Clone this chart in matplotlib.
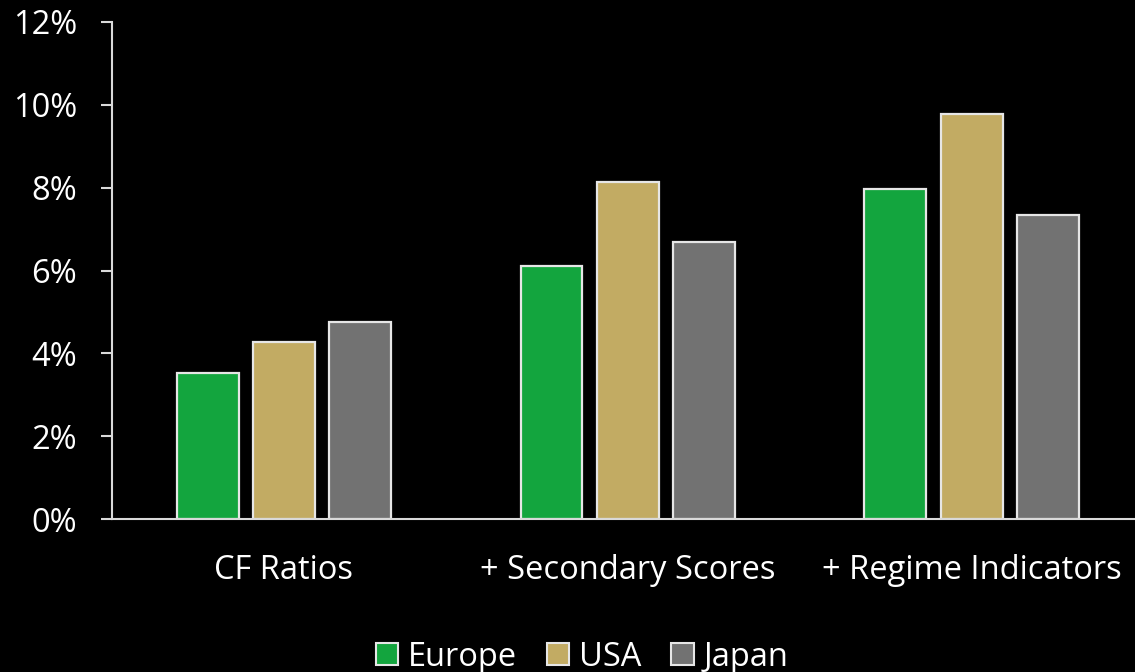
import matplotlib
matplotlib.use("Agg")
import matplotlib.pyplot as plt
import numpy as np
from matplotlib.patches import Patch

categories = ["CF Ratios", "+ Secondary Scores", "+ Regime Indicators"]
series_names = ["Europe", "USA", "Japan"]
europe = [3.53, 6.10, 7.97]
usa = [4.27, 8.13, 9.78]
japan = [4.75, 6.68, 7.33]
yticks = [0, 2, 4, 6, 8, 10, 12]
ytick_labels = ["0%", "2%", "4%", "6%", "8%", "10%", "12%"]

colors = ["#13A53E", "#C2AB63", "#727272"]
edge = "#E6E6E6"
fg = "#D9D9D9"

plt.rcParams['font.family'] = ['Open Sans', 'DejaVu Sans']

fig = plt.figure(figsize=(11.35, 6.72), dpi=100, facecolor="black")
ax = fig.add_axes([112/1135, 1-519/672, 1-112/1135, (519-22)/672])
ax.set_facecolor("black")

x = np.arange(len(categories))
step = 0.222
width = 0.18
for i, (vals, name) in enumerate(zip([europe, usa, japan], series_names)):
    ax.bar(x + (i-1)*step, vals, width, color=colors[i], edgecolor=edge, linewidth=1.6, label=name, zorder=2)

ax.set_xlim(-0.5, 2.475)
ax.set_ylim(0, 12)
ax.set_yticks(yticks)
ax.set_yticklabels(ytick_labels)
ax.set_xticks(x)
ax.set_xticklabels(categories)

for s in ["top", "right"]:
    ax.spines[s].set_visible(False)
for s in ["left", "bottom"]:
    ax.spines[s].set_color(fg)
    ax.spines[s].set_linewidth(1.5)
ax.tick_params(axis="y", colors=fg, labelcolor="white", labelsize=23.5, length=8, width=1.5, direction="out", pad=17)
ax.tick_params(axis="x", length=0, labelcolor="white", labelsize=23.5, pad=25)

handles = [Patch(facecolor=c, edgecolor=edge, linewidth=1.5) for c in colors]
fig.legend(handles, series_names, loc="center", bbox_to_anchor=(582/1135, 1-657/672),
           ncol=3, frameon=False, fontsize=23.5, labelcolor="white",
           handlelength=0.68, handleheight=0.68, handletextpad=0.3, columnspacing=0.92)

fig.savefig("out.png", dpi=100, facecolor="black")
